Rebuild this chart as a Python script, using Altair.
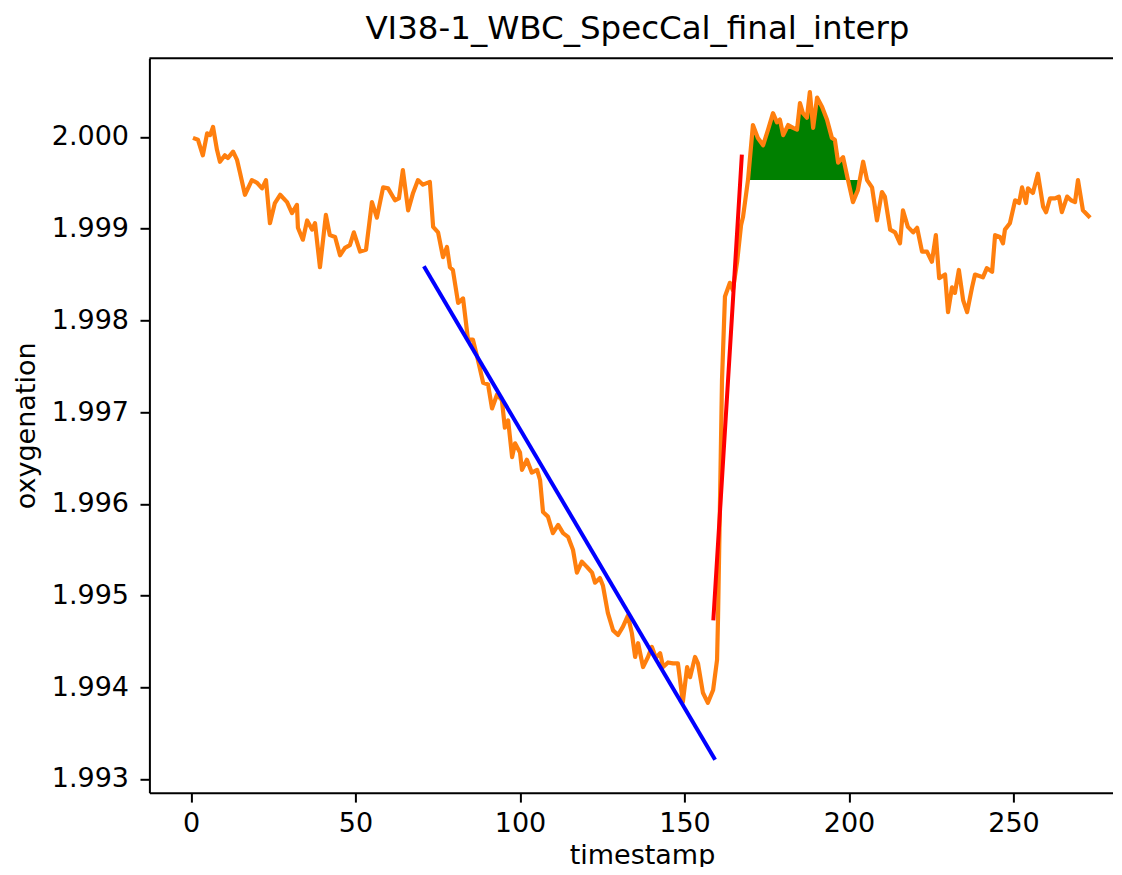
import altair as alt
import pandas as pd

# ---- data ----
timestamp = [
    0.6, 2.1, 3.6, 4.9, 5.8, 6.7, 7.9, 8.8, 10.3, 11.2,
    12.8, 14.0, 14.9, 16.4, 18.5, 20.1, 21.6, 22.8, 24.0, 25.5,
    27.1, 29.2, 30.7, 32.2, 32.5, 34.0, 35.3, 36.8, 37.7, 39.2,
    41.0, 42.2, 43.8, 45.3, 46.8, 48.3, 49.5, 51.4, 53.2, 55.0,
    56.5, 58.4, 59.9, 62.0, 63.2, 64.4, 66.0, 67.5, 69.0, 70.5,
    72.6, 73.6, 75.1, 76.6, 77.8, 78.7, 79.6, 81.2, 82.7, 84.2,
    85.7, 87.2, 88.8, 90.3, 91.5, 93.0, 94.5, 95.4, 96.4, 97.6,
    98.5, 100.0, 100.6, 102.1, 103.6, 105.2, 106.1, 107.0, 108.5, 110.0,
    111.6, 113.1, 114.6, 116.1, 117.3, 118.8, 120.4, 121.9, 122.8, 124.3,
    125.2, 126.7, 128.3, 129.8, 131.3, 132.8, 134.0, 135.0, 135.9, 137.4,
    138.9, 140.1, 141.3, 142.6, 143.5, 145.0, 146.5, 148.0, 149.5, 150.8,
    151.7, 153.2, 154.1, 155.6, 157.1, 158.7, 159.9, 160.2, 160.8, 161.4,
    162.3, 163.8, 164.7, 166.0, 167.2, 167.8, 168.7, 169.3, 170.8, 172.3,
    173.9, 175.4, 176.9, 178.1, 179.0, 180.0, 181.5, 183.0, 184.2, 185.1,
    186.0, 187.2, 188.1, 189.1, 190.3, 191.8, 193.3, 194.8, 195.7, 196.7,
    198.2, 199.7, 201.2, 202.7, 204.3, 205.5, 207.0, 208.5, 210.0, 210.9,
    212.5, 214.0, 215.5, 216.4, 217.9, 219.5, 220.7, 222.2, 223.7, 225.2,
    226.4, 227.4, 229.2, 230.1, 231.3, 232.2, 233.4, 234.7, 235.9, 237.4,
    238.3, 240.7, 241.9, 243.5, 244.4, 245.9, 246.8, 247.4, 248.9, 250.5,
    251.7, 252.6, 253.8, 254.4, 255.9, 257.4, 259.0, 259.9, 261.1, 262.6,
    263.8, 264.7, 266.3, 267.5, 268.7, 269.6, 271.1, 273.3,
]
oxygenation = [
    1.99999, 1.99997, 1.99980, 2.00004, 2.00002, 2.00011, 1.99986, 1.99973, 1.99980, 1.99977,
    1.99984, 1.99975, 1.99961, 1.99937, 1.99953, 1.99950, 1.99944, 1.99953, 1.99906, 1.99928,
    1.99937, 1.99929, 1.99917, 1.99926, 1.99901, 1.99888, 1.99909, 1.99899, 1.99906, 1.99858,
    1.99915, 1.99893, 1.99891, 1.99871, 1.99879, 1.99882, 1.99896, 1.99875, 1.99877, 1.99929,
    1.99912, 1.99945, 1.99944, 1.99931, 1.99933, 1.99964, 1.99920, 1.99939, 1.99953, 1.99948,
    1.99951, 1.99902, 1.99896, 1.99869, 1.99880, 1.99858, 1.99855, 1.99819, 1.99824, 1.99779,
    1.99779, 1.99757, 1.99732, 1.99730, 1.99704, 1.99719, 1.99713, 1.99683, 1.99691, 1.99651,
    1.99666, 1.99656, 1.99637, 1.99648, 1.99634, 1.99637, 1.99626, 1.99591, 1.99586, 1.99568,
    1.99577, 1.99568, 1.99564, 1.99550, 1.99525, 1.99537, 1.99531, 1.99525, 1.99514, 1.99519,
    1.99511, 1.99481, 1.99462, 1.99457, 1.99466, 1.99478, 1.99459, 1.99433, 1.99448, 1.99422,
    1.99433, 1.99444, 1.99432, 1.99437, 1.99422, 1.99427, 1.99426, 1.99426, 1.99384, 1.99422,
    1.99411, 1.99433, 1.99426, 1.99394, 1.99383, 1.99397, 1.99430, 1.99477, 1.99604, 1.99735,
    1.99826, 1.99841, 1.99833, 1.99864, 1.99904, 1.99913, 1.99937, 1.99953, 2.00013, 1.99999,
    1.99991, 2.00008, 2.00026, 2.00016, 2.00019, 2.00002, 2.00013, 2.00010, 2.00008, 2.00037,
    2.00026, 2.00021, 2.00049, 2.00010, 2.00043, 2.00033, 2.00019, 1.99999, 1.99997, 1.99972,
    1.99978, 1.99953, 1.99929, 1.99942, 1.99973, 1.99953, 1.99945, 1.99909, 1.99940, 1.99935,
    1.99899, 1.99896, 1.99884, 1.99920, 1.99902, 1.99896, 1.99901, 1.99875, 1.99875, 1.99864,
    1.99893, 1.99846, 1.99850, 1.99809, 1.99836, 1.99830, 1.99855, 1.99822, 1.99809, 1.99836,
    1.99850, 1.99847, 1.99857, 1.99853, 1.99893, 1.99891, 1.99884, 1.99899, 1.99906, 1.99931,
    1.99928, 1.99945, 1.99928, 1.99944, 1.99939, 1.99960, 1.99924, 1.99918, 1.99933, 1.99933,
    1.99935, 1.99918, 1.99935, 1.99931, 1.99929, 1.99953, 1.99920, 1.99912,
]

# descending fit (blue) and ascending fit (red)
down_fit_x = [71.1, 159.0]
down_fit_y = [1.998571, 1.993228]
up_fit_x = [158.8, 167.4]
up_fit_y = [1.994751, 1.999785]

# shaded region above plateau baseline
fill_start = 169.3
fill_end = 203.0
fill_base = 1.99953

x_ticks = [0, 50, 100, 150, 200, 250]
y_ticks = [1.993, 1.994, 1.995, 1.996, 1.997, 1.998, 1.999, 2.000]
x_domain = [-12.64, 280.36]
y_domain = [1.99285, 2.000858]

title_text = "VI38-1_WBC_SpecCal_final_interp"

# ---- build tables ----
df = pd.DataFrame({"timestamp": timestamp, "oxygenation": oxygenation})
fill_df = df[(df["timestamp"] >= fill_start) & (df["timestamp"] <= fill_end)].copy()
down_df = pd.DataFrame({"timestamp": down_fit_x, "oxygenation": down_fit_y})
up_df = pd.DataFrame({"timestamp": up_fit_x, "oxygenation": up_fit_y})

W = 964
H = 734.4

xs = alt.Scale(domain=x_domain, nice=False, zero=False)
ys = alt.Scale(domain=y_domain, nice=False, zero=False)

x_axis = alt.Axis(values=x_ticks, format="d", title="timestamp", grid=False,
                  titleX=492.6, titleY=71, titleBaseline="alphabetic", labelPadding=8.5)
y_axis = alt.Axis(values=y_ticks, format=".3f", title="oxygenation", grid=False,
                  titleX=-115, titleY=367, titleBaseline="alphabetic")

X = alt.X("timestamp:Q", scale=xs, axis=x_axis)
Y = alt.Y("oxygenation:Q", scale=ys, axis=y_axis)

fill = alt.Chart(fill_df).mark_area(color="#008000", opacity=1, clip=True).encode(
    x=X, y=Y, y2=alt.datum(fill_base)
)
orange = alt.Chart(df).mark_line(color="#ff7f0e", strokeWidth=4.2, strokeJoin="round",
                                 clip=True).encode(x=X, y=Y)
blue = alt.Chart(down_df).mark_line(color="#0000ff", strokeWidth=4, strokeCap="square",
                                    clip=True).encode(x=X, y=Y)
red = alt.Chart(up_df).mark_line(color="#ff0000", strokeWidth=4, strokeCap="square",
                                 clip=True).encode(x=X, y=Y)
top_spine = alt.Chart(pd.DataFrame({"k": [0]})).mark_rule(color="black", strokeWidth=2).encode(
    x=alt.value(0), x2=alt.value(W), y=alt.value(0)
)

chart = (
    alt.layer(fill, orange, blue, red, top_spine)
    .properties(
        width=W,
        height=H,
        title=alt.TitleParams(title_text, font="DejaVu Sans", fontSize=32.5, fontWeight="normal",
                              color="black", anchor="middle", offset=-21, dx=6,
                              baseline="bottom"),
        autosize=alt.AutoSizeParams(type="none"),
        padding={"left": 141.4, "top": 50.3, "right": 0, "bottom": 74},
    )
    .configure_view(stroke=None)
    .configure_axis(
        domainColor="black", domainWidth=2, tickColor="black", tickWidth=2, tickSize=9.4,
        labelColor="black", titleColor="black", labelFont="DejaVu Sans", titleFont="DejaVu Sans",
        labelFontSize=27, titleFontSize=27, titleFontWeight="normal", labelPadding=11.5,
    )
)

chart.save("out.html", embed_options={"renderer": "svg", "actions": False})
